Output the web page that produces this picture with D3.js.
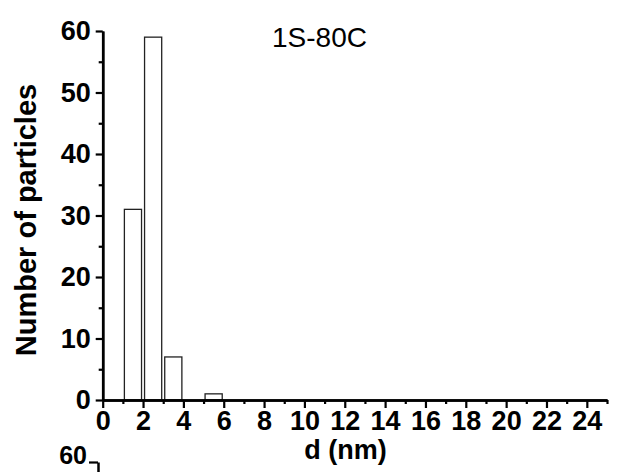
<!DOCTYPE html>
<html>
<head>
<meta charset="utf-8" />
<title>1S-80C</title>
<style>
    body { margin: 0; background: #fff; }
    svg text { font-family: "Liberation Sans", Arial, sans-serif; }
</style>
</head>
<body>
<div id="container"></div>
<script src="https://cdn.jsdelivr.net/npm/d3@7"></script>
<script>
    // histogram bins (nm) and counts
    const binCenters = [1.5, 2.5, 3.5, 5.5]
    const counts = [31, 59, 7, 1]
    const binWidth = 0.85
    const xMajorTicks = [0, 2, 4, 6, 8, 10, 12, 14, 16, 18, 20, 22, 24]
    const xMinorTicks = [1, 3, 5, 7, 9, 11, 13, 15, 17, 19, 21, 23, 25]
    const yMajorTicks = [0, 10, 20, 30, 40, 50, 60]
    const yMinorTicks = [5, 15, 25, 35, 45, 55]

    const W = 617, H = 472
    const svg = d3.select('#container').append('svg').attr('width', W).attr('height', H)

    const x = d3.scaleLinear().domain([0, 25]).range([102.7, 607])
    const y = d3.scaleLinear().domain([0, 60]).range([400, 31])

    // bars
    svg.append('g').selectAll('rect').data(counts).join('rect')
        .attr('x', (d, i) => x(binCenters[i] - binWidth / 2))
        .attr('width', (d, i) => x(binCenters[i] + binWidth / 2) - x(binCenters[i] - binWidth / 2))
        .attr('y', d => y(d))
        .attr('height', d => y(0) - y(d))
        .attr('fill', '#fff')
        .attr('stroke', '#222')
        .attr('stroke-width', 1.3)

    function styleAxis(g, size) {
        g.selectAll('path').attr('stroke', '#000').attr('stroke-width', 2.5)
        g.selectAll('line').attr('stroke', '#000').attr('stroke-width', 2.2)
        g.selectAll('text').attr('fill', '#000').style('font-size', size + 'px').style('font-weight', 'bold')
    }

    // x axis
    const gx = svg.append('g').attr('transform', `translate(0, ${y(0)})`)
    gx.call(d3.axisBottom(x).tickValues(xMajorTicks).tickSize(8).tickPadding(3).tickSizeOuter(0))
    styleAxis(gx, 27)
    const gxm = svg.append('g').attr('transform', `translate(0, ${y(0)})`)
    gxm.call(d3.axisBottom(x).tickValues(xMinorTicks).tickSize(4).tickFormat('').tickSizeOuter(0))
    styleAxis(gxm, 27)

    // y axis
    const gy = svg.append('g').attr('transform', `translate(${x(0)}, 0)`)
    gy.call(d3.axisLeft(y).tickValues(yMajorTicks).tickSize(7).tickPadding(5).tickSizeOuter(0))
    styleAxis(gy, 27)
    const gym = svg.append('g').attr('transform', `translate(${x(0)}, 0)`)
    gym.call(d3.axisLeft(y).tickValues(yMinorTicks).tickSize(4).tickFormat('').tickSizeOuter(0))
    styleAxis(gym, 27)

    // labels
    svg.append('text')
        .attr('x', 272).attr('y', 47)
        .style('font-size', '28px')
        .text('1S-80C')

    svg.append('text')
        .attr('transform', 'translate(36, 220) rotate(-90)')
        .attr('text-anchor', 'middle')
        .style('font-size', '29px').style('font-weight', 'bold')
        .text('Number of particles')

    svg.append('text')
        .attr('x', 345.5).attr('y', 459)
        .attr('text-anchor', 'middle')
        .style('font-size', '27px').style('font-weight', 'bold')
        .text('d (nm)')

    // top of the next panel's y axis, cut by the page edge
    const y2 = d3.scaleLinear().domain([0, 60]).range([831, 462])
    const gy2 = svg.append('g').attr('transform', 'translate(98, 0)')
    gy2.call(d3.axisLeft(y2).tickValues([60]).tickSize(9).tickPadding(2).tickSizeOuter(0))
    styleAxis(gy2, 25)
    gy2.selectAll('text').attr('dy', '0.05em')
</script>
</body>
</html>
